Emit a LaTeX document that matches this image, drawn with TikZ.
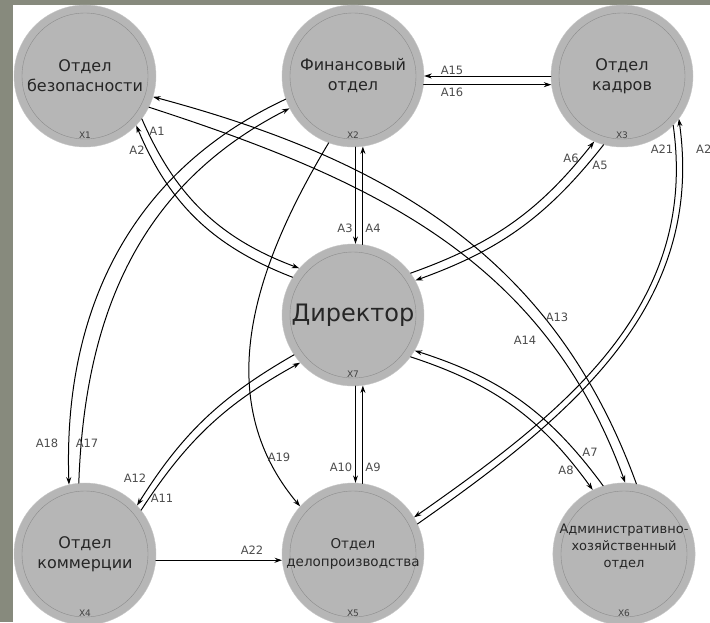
\documentclass[tikz,border=0pt]{standalone}
\usepackage{fontspec}
\setmainfont{DejaVu Sans}
\usetikzlibrary{arrows.meta}
\definecolor{polosa}{RGB}{135,138,125}
\definecolor{krug}{RGB}{182,182,182}
\begin{document}
\begin{tikzpicture}[x=1pt,y=-1pt,>={Stealth[length=7.5pt,width=5pt]},
    line join=round,line cap=round,
    otdel/.style={circle,minimum size=142pt,inner sep=0pt,fill=krug,draw=gray!45,
      align=center,text=black!85,font=\fontsize{16}{20}\selectfont,
      path picture={\draw[gray!90,line width=.4pt] (path picture bounding box.center) circle (63pt);}},
    svyaz/.style={->,line width=1pt},
    metka/.style={text=black!70,font=\fontsize{11.5}{13}\selectfont,inner sep=1pt},
    nomer/.style={text=black!75,font=\fontsize{9}{10}\selectfont,inner sep=0pt}]
  \useasboundingbox (0,0) rectangle (710,622);
  % фон
  \fill[white] (0,0) rectangle (710,622);
  \fill[polosa] (0,0) rectangle (13,622);
  \fill[polosa] (0,0) rectangle (710,5);
  % Верхний ряд
  \node[otdel] (x1) at (85,76) {Отдел\\безопасности};
  \node[otdel] (x2) at (353,76) {Финансовый\\отдел};
  \node[otdel] (x3) at (622,76) {Отдел\\кадров};
  % Средний ряд
  \node[otdel,font=\fontsize{24}{28}\selectfont] (x7) at (353,315) {Директор};
  % Нижний ряд
  \node[otdel] (x4) at (85,554) {Отдел\\коммерции};
  \node[otdel,font=\fontsize{13.5}{18}\selectfont] (x5) at (353,554) {Отдел\\делопроизводства};
  \node[otdel,font=\fontsize{13}{17}\selectfont] (x6) at (624,554) {Административно-\\хозяйственный\\отдел\\~};
  \foreach \i in {1,...,7}
    \node[nomer] (nx\i) at ([yshift=-59pt]x\i.center) {X\i};
  % безопасность -- директор
  \draw[svyaz] (x1.-37) to[bend right=23] (x7.139);
  \draw[svyaz] (x7.148) to[bend left=23] (x1.-44);
  \node[metka] (a1) at (157,131) {A1};
  \node[metka] (a2) at (137,150) {A2};
  % финансовый -- директор
  \draw[svyaz] (x2.-88) -- (x7.88);
  \draw[svyaz] (x7.82) -- (x2.-82);
  \node[metka] (a3) at (345,228) {A3};
  \node[metka] (a4) at (373,228) {A4};
  % кадры -- директор
  \draw[svyaz] (x3.-105) to[bend left=16] (x7.29);
  \draw[svyaz] (x7.36) to[bend right=16] (x3.-113);
  \node[metka] (a5) at (600,165) {A5};
  \node[metka] (a6) at (571,158) {A6};
  % директор -- АХО
  \draw[svyaz] (x6.107) to[bend right=18] (x7.-30);
  \draw[svyaz] (x7.-36) to[bend left=18] (x6.116);
  \node[metka] (a7) at (590,452) {A7};
  \node[metka] (a8) at (566,470) {A8};
  % директор -- делопроизводство
  \draw[svyaz] (x5.82) -- (x7.-82);
  \draw[svyaz] (x7.-88) -- (x5.88);
  \node[metka] (a9) at (373,467) {A9};
  \node[metka] (a10) at (341,467) {A10};
  % коммерция -- директор
  \draw[svyaz] (x4.38) to[bend left=14] (x7.-138);
  \draw[svyaz] (x7.-146) to[bend right=14] (x4.43);
  \node[metka] (a11) at (162,498) {A11};
  \node[metka] (a12) at (135,478) {A12};
  % безопасность -- АХО
  \draw[svyaz] (x6.80) to[out=110,in=-15] (x1.-17);
  \draw[svyaz] (x1.-26) to[out=-18,in=110] (x6.89);
  \node[metka] (a13) at (557,317) {A13};
  \node[metka] (a14) at (525,340) {A14};
  % кадры -- финансовый
  \draw[svyaz] (x3.180) -- (x2.0);
  \draw[svyaz] (x2.-7) -- (x3.187);
  \node[metka] (a15) at (452,70) {A15};
  \node[metka] (a16) at (452,92) {A16};
  % финансовый -- коммерция
  \draw[svyaz] (x4.95) to[out=88,in=207] (x2.207);
  \draw[svyaz] (x2.199) to[out=205,in=92] (x4.103);
  \node[metka] (a17) at (87,443) {A17};
  \node[metka] (a18) at (47,443) {A18};
  % финансовый -> делопроизводство
  \draw[svyaz] (x2.-110) to[out=-121,in=130] (x5.138);
  \node[metka] (a19) at (279,457) {A19};
  % делопроизводство -- кадры
  \draw[svyaz] (x5.25) to[out=35,in=-82] (x3.-37);
  \draw[svyaz] (x3.-44) to[out=-82,in=35] (x5.31);
  \node[metka,anchor=west] (a20) at (695,149) {A20};
  \node[metka] (a21) at (662,149) {A21};
  % коммерция -> делопроизводство
  \draw[svyaz] (x4.-5) -- (x5.185);
  \node[metka] (a22) at (252,550) {A22};
\end{tikzpicture}
\end{document}
